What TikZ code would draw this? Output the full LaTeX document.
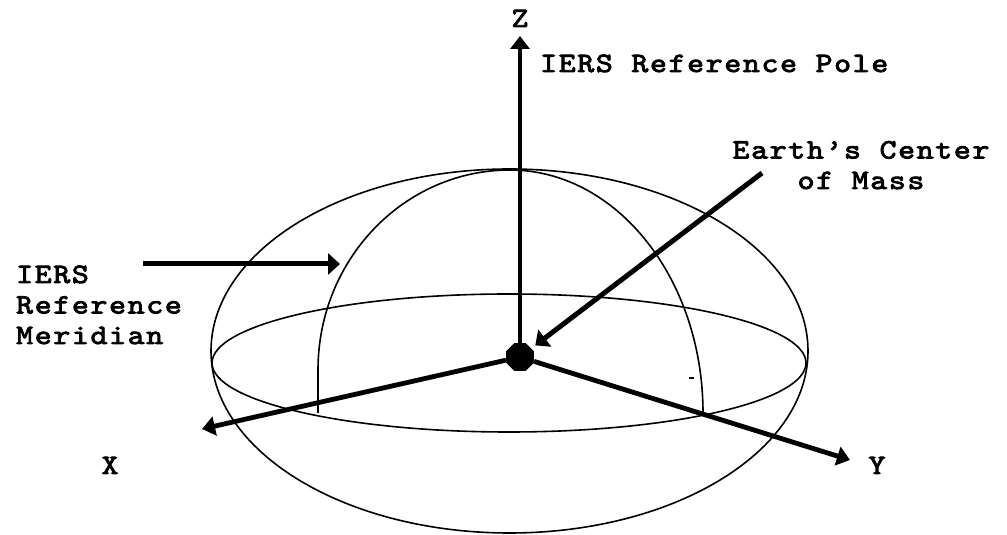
\documentclass[tikz,border=0pt]{standalone}
\usepackage{fontspec}
\newfontfamily\diagfont{lmmono10-regular.otf}[FakeBold=3, FakeStretch=1.15, LetterSpace=6]
\usetikzlibrary{arrows.meta,shapes.geometric}
\tikzset{
  shell/.style={black, line width=1.6pt},
  axisarrow/.style={black, line width=4.8pt, -{Triangle[length=13pt,width=19pt]}},
  pointer/.style={black, line width=5pt, -{Triangle[length=12pt,width=21pt]}},
  labeltext/.style={font=\diagfont\fontsize{28}{30.5}\selectfont, inner sep=0pt},
  massdot/.style={regular polygon, regular polygon sides=8, fill=black, inner sep=0pt, minimum size=30pt}
}

\begin{document}
\begin{tikzpicture}[x=1pt,y=1pt]
  \useasboundingbox (0,0) rectangle (1007,535);
  % outline of the earth and the equator
  \draw[shell] (509.5,184) ellipse (298.5 and 182);
  \draw[shell] (509,172) ellipse (297 and 69);
  % meridians
  \draw[shell] (318,122) -- (318,165) arc[start angle=180, end angle=90, x radius=192, y radius=200];
  \draw[shell] (510,365) arc[start angle=90, end angle=0, x radius=193, y radius=243];
  \draw[black, line width=1.2pt] (689,157) -- (694,157);
  % axes
  \node[massdot] (com) at (520,178) {};
  \coordinate (ztip) at (520,499);
  \coordinate (xtip) at (202,106);
  \coordinate (ytip) at (850,75);
  \draw[axisarrow] (com) -- (ztip);
  \draw[axisarrow] (com) -- (xtip);
  \draw[axisarrow] (com) -- (ytip);
  \node[labeltext, anchor=base] (zlabel) at (520,508) {Z};
  \node[labeltext, anchor=base] (xlabel) at (110,61) {X};
  \node[labeltext, anchor=base] (ylabel) at (877,61) {Y};
  % labels and pointers
  \node[labeltext, anchor=base west] (polelabel) at (540,463) {IERS Reference Pole};
  \node[labeltext, align=center, anchor=base] (comlabel) at (861,346) {Earth’s Center\\of Mass};
  \node[labeltext, align=left, anchor=base west] (meridlabel) at (16,191) {IERS\\Reference\\Meridian};
  \coordinate (comtail) at (762,362);
  \coordinate (meridtail) at (143,271);
  \coordinate (meridtip) at (340,271);
  \draw[pointer, shorten >=5pt] (comtail) -- (com);
  \draw[pointer] (meridtail) -- (meridtip);
\end{tikzpicture}
\end{document}
